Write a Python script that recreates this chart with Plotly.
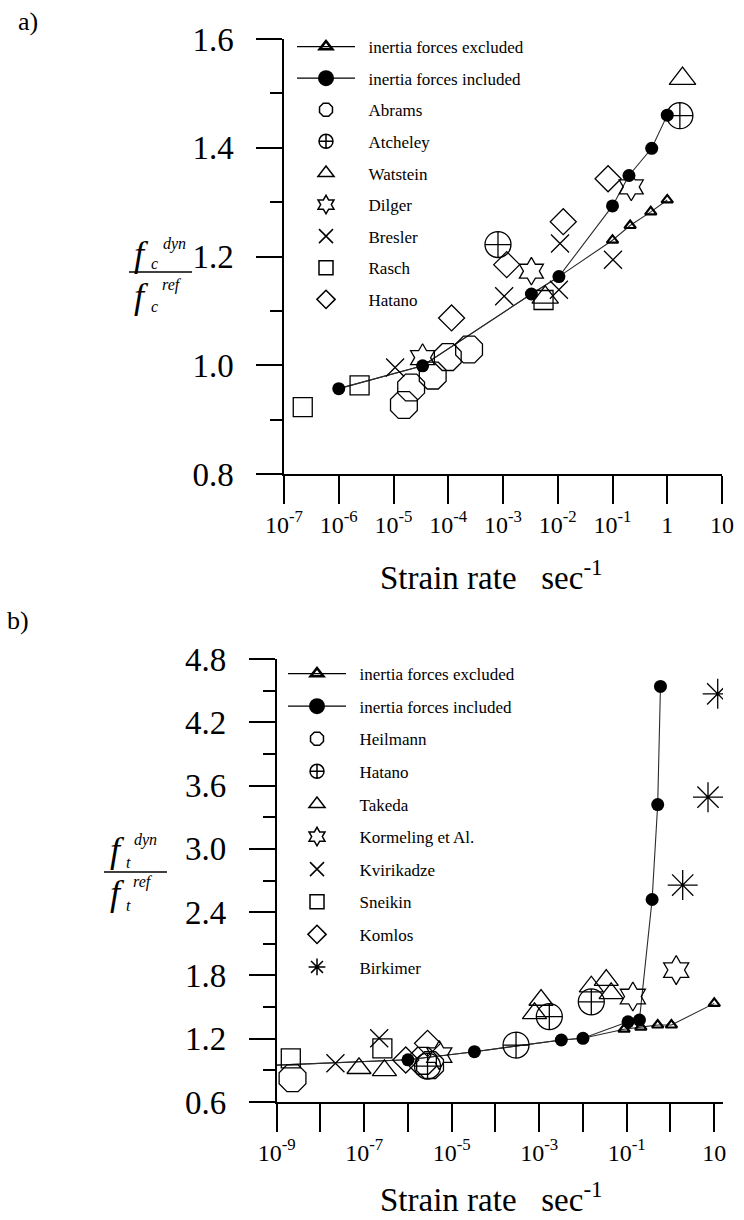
import plotly.graph_objects as go

SERIF = "Liberation Serif"
INK = "black"

# ---------------- panel a) compressive strength ----------------
a_excl_rate = [1e-6, 3.4e-5, 3.3e-3, 1.05e-2, 0.10, 0.21, 0.50, 1.0]
a_excl_ratio = [0.957, 0.999, 1.131, 1.163, 1.230, 1.257, 1.282, 1.304]
a_excl_shown = [False, False, False, False, True, True, True, True]

a_incl_rate = [1e-6, 3.4e-5, 3.3e-3, 1.05e-2, 0.10, 0.20, 0.52, 1.0]
a_incl_ratio = [0.957, 0.999, 1.131, 1.163, 1.293, 1.349, 1.399, 1.460]

a_abrams_rate = [1.55e-5, 2.1e-5, 5.2e-5, 9.8e-5, 2.4e-4]
a_abrams_ratio = [0.927, 0.959, 0.981, 1.015, 1.029]
a_atcheley_rate = [8.1e-4, 1.7]
a_atcheley_ratio = [1.222, 1.459]
a_watstein_rate = [5.9e-3, 1.9]
a_watstein_ratio = [1.125, 1.527]
a_dilger_rate = [3.4e-5, 3.3e-3, 0.22]
a_dilger_ratio = [1.014, 1.173, 1.328]
a_bresler_rate = [1.07e-5, 1.05e-3, 1.05e-2, 1.1e-2, 0.102]
a_bresler_ratio = [0.996, 1.127, 1.139, 1.224, 1.194]
a_rasch_rate = [2.2e-7, 2.4e-6, 5.5e-3]
a_rasch_ratio = [0.923, 0.963, 1.120]
a_hatano_rate = [1.15e-4, 1.17e-3, 1.26e-2, 0.083]
a_hatano_ratio = [1.087, 1.185, 1.264, 1.343]

a_xticks = [1e-7, 1e-6, 1e-5, 1e-4, 1e-3, 1e-2, 1e-1, 1, 10]
a_xlabels = ["10<sup>-7</sup>", "10<sup>-6</sup>", "10<sup>-5</sup>", "10<sup>-4</sup>",
             "10<sup>-3</sup>", "10<sup>-2</sup>", "10<sup>-1</sup>", "1", "10"]

# ---------------- panel b) tensile strength ----------------
b_excl_rate = [1e-9, 1e-6, 3.3e-5, 3.2e-3, 1e-2, 0.087, 0.21, 0.51, 1.05, 10.0]
b_excl_ratio = [0.95, 1.0, 1.077, 1.188, 1.204, 1.29, 1.31, 1.33, 1.33, 1.535]
b_excl_shown = [False, False, False, False, False, True, True, True, True, True]

b_incl_rate = [1e-9, 1e-6, 3.3e-5, 3.2e-3, 1e-2, 0.107, 0.195, 0.38, 0.51, 0.59]
b_incl_ratio = [0.95, 1.0, 1.077, 1.188, 1.204, 1.36, 1.377, 2.52, 3.42, 4.54]
b_incl_shown = [False, True, True, True, True, True, True, True, True, True]

b_heilmann_rate = [2.3e-9, 2.2e-6, 3.2e-6]
b_heilmann_ratio = [0.825, 0.99, 0.95]
b_hatano_rate = [2.8e-6, 2.95e-4, 1.7e-3, 1.55e-2]
b_hatano_ratio = [0.94, 1.14, 1.41, 1.55]
b_takeda_rate = [7.6e-8, 2.9e-7, 7.8e-4, 1.1e-3, 1.55e-2, 3.4e-2, 4.4e-2]
b_takeda_ratio = [0.92, 0.90, 1.44, 1.567, 1.693, 1.756, 1.63]
b_kormeling_rate = [5.2e-6, 0.138, 1.35]
b_kormeling_ratio = [1.045, 1.60, 1.851]
b_kvirikadze_rate = [2.2e-8, 2.2e-7]
b_kvirikadze_ratio = [0.967, 1.204]
b_sneikin_rate = [2.1e-9, 2.6e-7]
b_sneikin_ratio = [1.014, 1.109]
b_komlos_rate = [8.9e-7, 2.8e-6]
b_komlos_ratio = [0.998, 1.156]
b_birkimer_rate = [1.9, 7.2, 12.0]
b_birkimer_ratio = [2.657, 3.49, 4.47]

b_xticks = [10.0 ** k for k in range(-9, 2)]
b_xlabels = ["10<sup>-9</sup>", "", "10<sup>-7</sup>", "", "10<sup>-5</sup>", "",
             "10<sup>-3</sup>", "", "10<sup>-1</sup>", "", "10"]

LINE_COL = "#2b2b2b"
PAD = "\u00a0\u00a0"


def open_marker(symbol, size, width=1.3):
    return dict(symbol=symbol, size=size, color="rgba(0,0,0,0)", opacity=1,
                line=dict(color=INK, width=width))


fig = go.Figure()


def add_panel(xa, ya, legend, excl, incl, sets):
    ex_r, ex_v, ex_show = excl
    in_r, in_v, in_show = incl
    # model curves (legend keys are added separately below)
    fig.add_trace(go.Scatter(
        x=ex_r, y=ex_v, mode="lines+markers", xaxis=xa, yaxis=ya, showlegend=False,
        line=dict(color=LINE_COL, width=1.1),
        marker=dict(symbol="triangle-up-open", size=[10 if s else 0 for s in ex_show],
                    color=INK, opacity=1, line=dict(color=INK, width=2.2)),
        hoverinfo="skip"))
    fig.add_trace(go.Scatter(
        x=in_r, y=in_v, mode="lines+markers", xaxis=xa, yaxis=ya, showlegend=False,
        line=dict(color=LINE_COL, width=1.1),
        marker=dict(symbol="circle", size=[13 if s else 0 for s in in_show], color=INK,
                    opacity=1, line=dict(width=0)),
        hoverinfo="skip"))
    # test data
    for name, rates, ratios, sym, size in sets:
        fig.add_trace(go.Scatter(
            x=rates, y=ratios, mode="markers", xaxis=xa, yaxis=ya, showlegend=False,
            marker=open_marker(sym, size), hoverinfo="skip"))
    # legend keys
    fig.add_trace(go.Scatter(
        x=[None], y=[None], mode="lines+markers", name=PAD + "inertia forces excluded",
        legend=legend, legendgroup=legend + "ex", xaxis=xa, yaxis=ya,
        line=dict(color=INK, width=1.3),
        marker=dict(symbol="triangle-up-open", size=11, color=INK,
                    line=dict(color=INK, width=2.6))))
    fig.add_trace(go.Scatter(
        x=[None], y=[None], mode="lines+markers", name=PAD + "inertia forces included",
        legend=legend, legendgroup=legend + "in", xaxis=xa, yaxis=ya,
        line=dict(color=INK, width=1.3),
        marker=dict(symbol="circle", size=16, color=INK)))
    for name, rates, ratios, sym, size in sets:
        fig.add_trace(go.Scatter(
            x=[None], y=[None], mode="markers", name=PAD + name, legend=legend,
            legendgroup=legend + name, xaxis=xa, yaxis=ya,
            marker=open_marker(sym, 14, 1.5)))


add_panel("x", "y", "legend",
          (a_excl_rate, a_excl_ratio, a_excl_shown),
          (a_incl_rate, a_incl_ratio, [True] * len(a_incl_rate)),
          [("Abrams", a_abrams_rate, a_abrams_ratio, "octagon", 29),
           ("Atcheley", a_atcheley_rate, a_atcheley_ratio, "circle-cross", 26),
           ("Watstein", a_watstein_rate, a_watstein_ratio, "triangle-up", 23),
           ("Dilger", a_dilger_rate, a_dilger_ratio, "hexagram", 21),
           ("Bresler", a_bresler_rate, a_bresler_ratio, "x-thin", 18),
           ("Rasch", a_rasch_rate, a_rasch_ratio, "square", 19),
           ("Hatano", a_hatano_rate, a_hatano_ratio, "diamond", 20)])

add_panel("x2", "y2", "legend2",
          (b_excl_rate, b_excl_ratio, b_excl_shown),
          (b_incl_rate, b_incl_ratio, b_incl_shown),
          [("Heilmann", b_heilmann_rate, b_heilmann_ratio, "octagon", 29),
           ("Hatano", b_hatano_rate, b_hatano_ratio, "circle-cross", 26),
           ("Takeda", b_takeda_rate, b_takeda_ratio, "triangle-up", 21),
           ("Kormeling et Al.", b_kormeling_rate, b_kormeling_ratio, "hexagram", 22),
           ("Kvirikadze", b_kvirikadze_rate, b_kvirikadze_ratio, "x-thin", 18),
           ("Sneikin", b_sneikin_rate, b_sneikin_ratio, "square", 19),
           ("Komlos", b_komlos_rate, b_komlos_ratio, "diamond", 20),
           ("Birkimer", b_birkimer_rate, b_birkimer_ratio, "asterisk", 25)])

W, H = 744, 1220


def px(x):
    return x / W


def py(y):
    return 1 - y / H


common_x = dict(type="log", showgrid=False, zeroline=False, showline=True,
                linecolor=INK, linewidth=1.5, ticks="outside", ticklen=28,
                tickwidth=1.5, tickcolor=INK,
                tickfont=dict(family=SERIF, size=24, color=INK))
common_y = dict(showgrid=False, zeroline=False, showline=True, linecolor=INK,
                linewidth=1.5, ticks="outside", ticklen=26, tickwidth=1.5,
                tickcolor=INK, tickformat=".1f", ticklabelstandoff=16,
                tickfont=dict(family=SERIF, size=33, color=INK))

legend_common = dict(font=dict(family=SERIF, size=17, color=INK),
                     bgcolor="rgba(0,0,0,0)", xanchor="left", yanchor="top",
                     itemwidth=58, itemclick=False)

fig.update_layout(
    width=W, height=H,
    margin=dict(l=0, r=0, t=0, b=0, autoexpand=False),
    paper_bgcolor="white", plot_bgcolor="white",
    xaxis=dict(common_x, domain=[px(284), px(722)], anchor="y", range=[-7, 1],
               tickvals=a_xticks, ticktext=a_xlabels),
    yaxis=dict(common_y, domain=[py(474), py(39)], anchor="x", range=[0.8, 1.6],
               tick0=0.8, dtick=0.2,
               minor=dict(dtick=0.1, ticklen=12, ticks="outside", tickwidth=1.5,
                          tickcolor=INK)),
    xaxis2=dict(common_x, domain=[px(276.7), px(723)], anchor="y2", range=[-9, 1.2],
                tickvals=b_xticks, ticktext=b_xlabels),
    yaxis2=dict(common_y, domain=[py(1102), py(659)], anchor="x2", range=[0.6, 4.8],
                tick0=0.6, dtick=0.6,
                minor=dict(dtick=0.3, ticklen=12, ticks="outside", tickwidth=1.5,
                           tickcolor=INK)),
    legend=dict(legend_common, x=px(292), y=py(29), tracegroupgap=6.5),
    legend2=dict(legend_common, x=px(283), y=py(656), tracegroupgap=7.5),
    showlegend=True,
)

# axis titles and panel tags
ann = []


def text(x, y, s, size, italic=False, yanchor="middle"):
    ann.append(dict(x=px(x), y=py(y), xref="paper", yref="paper", text=s,
                    showarrow=False, xanchor="center", yanchor=yanchor,
                    font=dict(family=SERIF, size=size, color=INK,
                              style="italic" if italic else "normal")))


text(28, 22, "a)", 26)
text(18, 620, "b)", 26)
text(491, 598, "Strain rate \u00a0 sec<sup>-1</sup>", 33, yanchor="bottom")
text(491, 1220, "Strain rate \u00a0 sec<sup>-1</sup>", 33, yanchor="bottom")

# f_c^dyn / f_c^ref
text(141, 254, "f", 36, True)
text(154, 264, "c", 16, True)
text(174, 244, "dyn", 16, True)
text(141, 296, "f", 36, True)
text(154, 306, "c", 16, True)
text(172, 285, "ref", 16, True)
# f_t^dyn / f_t^ref
text(117, 850, "f", 36, True)
text(128, 862, "t", 16, True)
text(145, 840, "dyn", 16, True)
text(117, 893, "f", 36, True)
text(128, 905, "t", 16, True)
text(143, 882, "ref", 16, True)

fig.update_layout(annotations=ann)
fig.add_shape(type="line", xref="paper", yref="paper", x0=px(129), x1=px(192),
              y0=py(272), y1=py(272), line=dict(color=INK, width=1.3))
fig.add_shape(type="line", xref="paper", yref="paper", x0=px(104), x1=px(167),
              y0=py(872), y1=py(872), line=dict(color=INK, width=1.3))

fig.write_html("out.html")
